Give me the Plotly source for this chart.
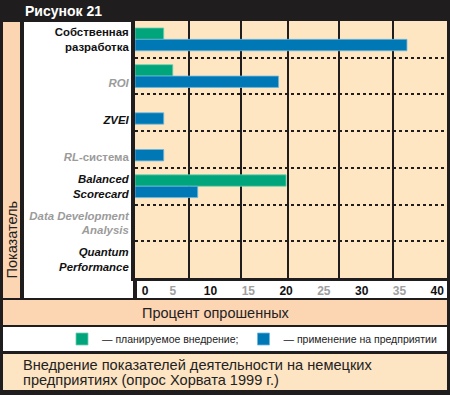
import plotly.graph_objects as go

# ---------------- data ----------------
categories = ["Собственная разработка", "ROI", "ZVEI", "RL-система",
              "Balanced Scorecard", "Data Development Analysis", "Quantum Performance"]
category_labels = [
    "<b>Собственная</b><br><b>разработка</b>",
    "<br><span style='color:#9b9b9b'><b><i>ROI</i></b></span>",
    "<br><b><i>ZVEI</i></b>",
    "<br><span style='color:#9b9b9b'><b><i>RL</i>-система</b></span>",
    "<b><i>Balanced</i></b><br><b><i>Scorecard</i></b>",
    "<span style='color:#9b9b9b'><b><i>Data Development</i></b></span><br><span style='color:#9b9b9b'><b><i>Analysis</i></b></span>",
    "<b><i>Quantum</i></b><br><b><i>Performance</i></b>",
]
planned = [3.8, 5, None, None, 20, None, None]          # планируемое внедрение
applied = [36, 19, 3.8, 3.8, 8.3, None, None]           # применение на предприятии
series_names = ["— планируемое внедрение;", "— применение на предприятии"]
x_ticks = [0, 5, 10, 15, 20, 25, 30, 35, 40]
x_tick_labels = ["<b>" + "\u00a0" * 6 + "0</b>"] + [
    ("<b>%d</b>" % v) if v % 10 == 0 else ("<span style='color:#a0a0a0'><b>%d</b></span>" % v)
    for v in x_ticks[1:]]
x_grid = [7.15, 14.05, 20.25, 27.0, 34.15]
title_text = "Рисунок 21"
y_title = "Показатель"
x_title = "Процент опрошенных"
caption_lines = ["Внедрение показателей деятельности на немецких",
                 "предприятиях (опрос Хорвата 1999 г.)"]

# ---------------- layout helpers ----------------
W, H = 450, 395
L, R, T, B = 135, 447, 21, 278
def px(x): return (x - L) / (R - L)
def py(y): return (B - y) / (B - T)

DARK = "#1f1d1d"
PEACH_PLOT = "#fde6c1"
PEACH_BAND = "#fcd5b3"
PEACH_CAP = "#fde4c3"
GREEN = "#00a57b"
BLUE = "#0078b5"
FONT = "Liberation Sans"

fig = go.Figure()
fig.add_trace(go.Bar(y=categories, x=planned, orientation="h", name=series_names[0],
                     marker=dict(color=GREEN, line=dict(color="#6fcfae", width=0.8))))
fig.add_trace(go.Bar(y=categories, x=applied, orientation="h", name=series_names[1],
                     marker=dict(color=BLUE, line=dict(color="#6fb6dd", width=0.8))))

shapes = []
def rect(x0, y0, x1, y1, color):
    shapes.append(dict(type="rect", xref="paper", yref="paper", layer="below",
                       x0=px(x0), x1=px(x1), y0=py(y1), y1=py(y0),
                       fillcolor=color, line=dict(width=0)))
rect(3, 22, 20, 298, PEACH_BAND)      # left strip
rect(24, 22, 133, 298, "white")       # label area
rect(137, 280, 447, 298, "white")     # tick row
rect(3, 300, 447, 325, PEACH_BAND)    # x title band
rect(3, 327, 447, 351, "white")       # legend band
rect(3, 354, 447, 390, PEACH_CAP)     # caption band

annotations = [
    dict(text=title_text, x=px(23), y=py(11), xref="paper", yref="paper", showarrow=False,
         xanchor="left", yanchor="middle", font=dict(family=FONT, size=14, color="white", weight="bold")),
    dict(text=y_title, x=px(11.5), y=py(240), xref="paper", yref="paper", showarrow=False,
         textangle=-90, xanchor="center", yanchor="middle", font=dict(family=FONT, size=14.5, color="#222")),
    dict(text=x_title, x=px(140), y=py(312.5), xref="paper", yref="paper", showarrow=False,
         xanchor="left", yanchor="middle", font=dict(family=FONT, size=14.5, color="#222")),
    dict(text=caption_lines[0], x=px(21), y=py(365), xref="paper", yref="paper", showarrow=False,
         xanchor="left", yanchor="middle", font=dict(family=FONT, size=14.6, color="#222")),
    dict(text=caption_lines[1], x=px(21), y=py(380), xref="paper", yref="paper", showarrow=False,
         xanchor="left", yanchor="middle", font=dict(family=FONT, size=14.6, color="#222")),
]

fig.update_layout(
    width=W, height=H,
    margin=dict(l=L, r=W - R, t=T, b=H - B, pad=0, autoexpand=False),
    paper_bgcolor=DARK, plot_bgcolor=PEACH_PLOT,
    barmode="group", bargap=0.38, bargroupgap=0,
    showlegend=True,
    legend=dict(orientation="h", x=px(62), y=py(339), xanchor="left", yanchor="middle",
                bgcolor="rgba(0,0,0,0)", font=dict(family=FONT, size=10.5, color="#222"),
                itemwidth=30, traceorder="normal"),
    shapes=shapes, annotations=annotations,
    xaxis=dict(range=[0, 41.3], tickmode="array", tickvals=x_ticks, ticktext=x_tick_labels,
               ticks="", showgrid=False, zeroline=False, ticklabelstandoff=0,
               tickfont=dict(family=FONT, size=12, color="#111"),
               minor=dict(tickmode="array", tickvals=x_grid, showgrid=True,
                          gridcolor=DARK, gridwidth=1.5, ticks=""),
               showline=True, linecolor=DARK, linewidth=3, fixedrange=True, automargin=False),
    yaxis=dict(type="category", categoryorder="array", categoryarray=categories,
               autorange="reversed", tickvals=categories, ticktext=category_labels,
               tickson="boundaries", ticks="", showgrid=True, gridcolor=DARK,
               gridwidth=1.5, griddash="dot", showline=True, linecolor=DARK, linewidth=4,
               ticklabelstandoff=0, automargin=False, fixedrange=True,
               tickfont=dict(family=FONT, size=11.4, color="#111")),
)
fig.write_html("out.html", config={"displayModeBar": False},
               post_script="document.body.style.margin='0px';")
